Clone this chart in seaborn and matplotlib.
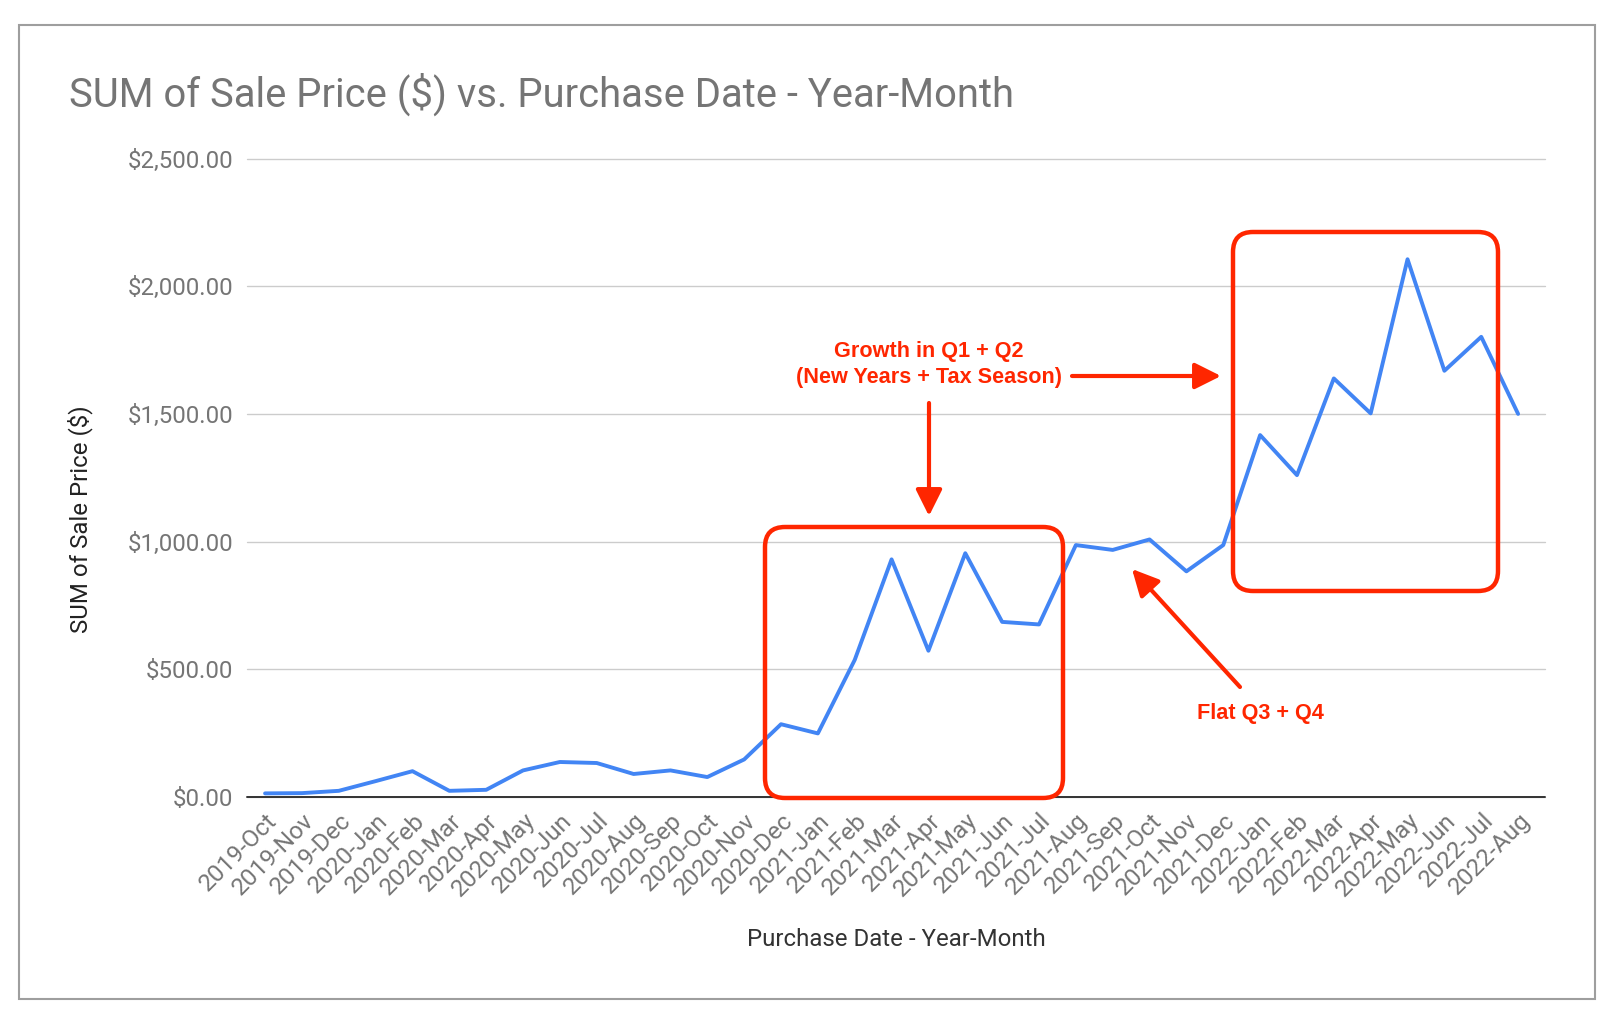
import numpy as np
import pandas as pd
import matplotlib
matplotlib.use("Agg")
import matplotlib.pyplot as plt
import seaborn as sns
from matplotlib.patches import FancyBboxPatch, Rectangle
from matplotlib.transforms import ScaledTranslation
from matplotlib.ticker import FuncFormatter

# ---------------- data ----------------
months = [
    "2019-Oct", "2019-Nov", "2019-Dec",
    "2020-Jan", "2020-Feb", "2020-Mar", "2020-Apr", "2020-May", "2020-Jun",
    "2020-Jul", "2020-Aug", "2020-Sep", "2020-Oct", "2020-Nov", "2020-Dec",
    "2021-Jan", "2021-Feb", "2021-Mar", "2021-Apr", "2021-May", "2021-Jun",
    "2021-Jul", "2021-Aug", "2021-Sep", "2021-Oct", "2021-Nov", "2021-Dec",
    "2022-Jan", "2022-Feb", "2022-Mar", "2022-Apr", "2022-May", "2022-Jun",
    "2022-Jul", "2022-Aug",
]
sale_price = [
    13, 14, 23,
    61, 100, 23, 27, 103, 136,
    132, 89, 103, 77, 146, 284,
    248, 536, 930, 572, 954, 685,
    675, 986, 967, 1008, 883, 986,
    1417, 1260, 1639, 1502, 2106, 1669,
    1802, 1500,
]
y_ticks = [0, 500, 1000, 1500, 2000, 2500]

title_text = "SUM of Sale Price ($) vs. Purchase Date - Year-Month"
x_label = "Purchase Date - Year-Month"
y_label = "SUM of Sale Price ($)"
note_growth = ["Growth in Q1 + Q2", "(New Years + Tax Season)"]
note_flat = "Flat Q3 + Q4"

# ---------------- style ----------------
sns.set_theme(style="white")
plt.rcParams['font.family'] = ['Roboto', 'DejaVu Sans']

W, H = 1612, 1018
RED = "#ff2600"
BLUE = "#4285F4"
GRAY_TXT = "#757575"

fig = plt.figure(figsize=(W / 100, H / 100), dpi=100)
fig.patch.set_facecolor("white")

ax_left, ax_right, ax_top, ax_bot = 247, 1545, 158.7, 796.7
ax = fig.add_axes([ax_left / W, 1 - ax_bot / H, (ax_right - ax_left) / W, (ax_bot - ax_top) / H])

df = pd.DataFrame({"month": months, "sale": sale_price})
sns.lineplot(data=df, x="month", y="sale", ax=ax, color=BLUE, linewidth=2.8, sort=False)

ax.set_xlim(-0.49, 34.73)
ax.set_ylim(0, 2500)
ax.set_yticks(y_ticks)
ax.yaxis.set_major_formatter(FuncFormatter(lambda v, p: f"${v:,.2f}"))
ax.yaxis.grid(True, color="#cccccc", linewidth=1.0)
ax.xaxis.grid(False)
for s in ax.spines.values():
    s.set_visible(False)
ax.axhline(0, color="#333333", linewidth=1.4, clip_on=False, zorder=1)
ax.set_xlabel("")
ax.set_ylabel("")

ax.tick_params(axis="y", length=0, pad=10, labelsize=17.3, labelcolor=GRAY_TXT)
ax.tick_params(axis="x", length=0, pad=0, labelsize=17.6, labelcolor=GRAY_TXT)
for lab in ax.get_xticklabels():
    lab.set_rotation(45)
    lab.set_ha("right")
    lab.set_va("baseline")
    lab.set_rotation_mode("anchor")
    lab.set_transform(lab.get_transform() + ScaledTranslation(13 / 100, -25 / 100, fig.dpi_scale_trans))
for gl in ax.get_ygridlines():
    gl.set_clip_on(False)

# ---------------- texts ----------------
fig.text(69 / W, 1 - 107 / H, title_text, ha="left", va="baseline", fontsize=28.8, color=GRAY_TXT)
fig.text(896 / W, 1 - 939 / H, x_label, ha="center", va="center", fontsize=17.3, color="#333333")
fig.text(80 / W, 1 - 519 / H, y_label, ha="center", va="center", rotation=90, fontsize=17.3, color="#222222")

# figure border
fig.add_artist(Rectangle((18.5 / 100, (H - 999) / 100), 1576.5 / 100, 974 / 100,
                         transform=fig.dpi_scale_trans, fill=False, edgecolor="#9e9e9e", linewidth=1.5))

# ---------------- annotations ----------------
def add_box(x0, y0, x1, y1):
    fig.add_artist(FancyBboxPatch((x0 / 100, (H - y1) / 100), (x1 - x0) / 100, (y1 - y0) / 100,
                                  boxstyle="round,pad=0,rounding_size=0.2",
                                  transform=fig.dpi_scale_trans, fill=False,
                                  edgecolor=RED, linewidth=3.2, zorder=5))

def add_arrow(tail, tip):
    ax.annotate("", xy=(tip[0] / W, 1 - tip[1] / H), xycoords="figure fraction",
                xytext=(tail[0] / W, 1 - tail[1] / H), textcoords="figure fraction",
                arrowprops=dict(arrowstyle="-|>,head_length=0.8,head_width=0.4", mutation_scale=20,
                                lw=3.0, color=RED, shrinkA=0, shrinkB=0), zorder=6)

add_box(765, 527, 1063, 798)
add_box(1233, 232, 1498, 591)

red_font = dict(ha="center", va="center", fontsize=15.6, fontweight="bold", color=RED,
                family=["Liberation Sans", "DejaVu Sans"])
fig.text(929 / W, 1 - 352 / H, note_growth[0], **red_font)
fig.text(929 / W, 1 - 377 / H, note_growth[1], **red_font)
fig.text(1260 / W, 1 - 713 / H, note_flat, **red_font)

add_arrow((929, 403), (929, 516))
add_arrow((1072, 376), (1221, 376))
add_arrow((1240, 687), (1132, 569))

fig.savefig("out.png", dpi=100, facecolor="white")
